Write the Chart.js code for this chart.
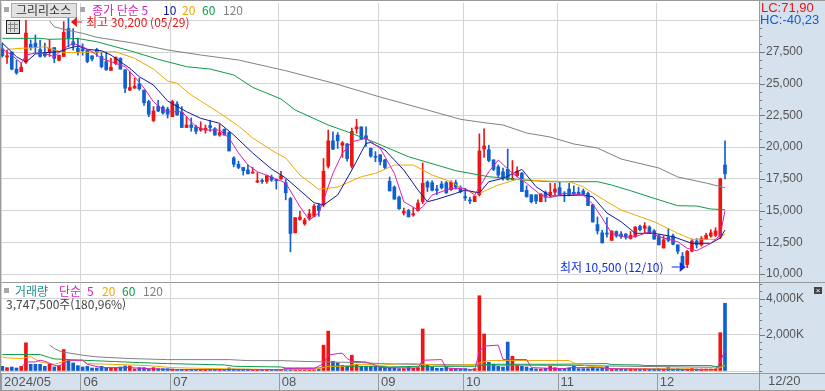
<!DOCTYPE html>
<html lang="ko">
<head>
  <meta charset="UTF-8">
  <title>그리리소스</title>
  <script src="https://cdn.jsdelivr.net/npm/chart.js"></script>
  <style>
    body { margin: 0; background: #fff; }
    canvas { position: absolute; left: 0; }
    #priceChart { top: 0; }
    #volumeChart { top: 283px; }
  </style>
</head>
<body>
  <canvas id="priceChart" width="825" height="283"></canvas>
  <canvas id="volumeChart" width="825" height="108"></canvas>
<script>
const monthLabels = ['2024/05', '06', '07', '08', '09', '10', '11', '12'];
const monthStart = [0, 17, 36, 59, 80, 98, 118, 139];
const priceLabels = [10000, 12500, 15000, 17500, 20000, 22500, 25000, 27500];
const volumeLabels = [2000, 4000];

const open = [
  27750,27100,27500,26150,25950,26700,28100,28200,27700,27450,
  27500,27850,26850,27150,29350,28300,27800,27750,27650,27200,
  27700,27150,26750,26050,26600,27000,26100,24500,24650,25000,
  24500,23600,22100,23250,23150,23000,22400,23400,22750,21550,
  21750,21600,21350,21350,21700,21450,20950,21400,21150,19150,
  18650,18400,18200,17950,17250,17350,17300,17650,17450,17500,
  17200,15950,13250,14300,13950,14400,14550,15400,15450,18500,
  20500,20950,20150,20250,18500,21450,21600,20900,19900,19250,
  19400,19000,17300,16850,16050,14800,15000,14650,15000,15700,
  17250,17200,16700,17100,17200,16650,17200,16800,16100,15850,
  15700,16250,19850,19800,19000,18450,18050,18250,17450,17750,
  17950,16600,16250,16250,15700,16450,16250,16450,16800,16350,
  16700,16450,16450,16550,16350,15450,13900,13250,13200,12650,
  13350,13150,13150,12800,12950,13750,13600,13700,13400,13000,
  12050,12900,13000,12300,11400,10750,11800,12600,12300,12750,
  13000,13050,12900,18600];
const close = [
  27200,27200,26150,25850,26300,29000,27850,27850,27150,27200,
  27800,27000,27250,29050,28600,28050,27500,27600,26750,26950,
  27500,26350,26100,26300,27100,26150,24650,24700,24800,24600,
  23500,22600,22850,22850,22700,22600,23600,22550,21550,21750,
  21550,21250,21500,21500,21550,20950,21150,20950,19700,18650,
  18400,18150,17900,18000,17350,17300,17750,17400,17350,17750,
  16400,13200,14450,14500,14250,14750,15350,15000,18100,20500,
  19850,20500,20350,19100,21250,21600,20650,20650,19300,19200,
  18850,18400,16550,15900,15150,14950,14500,14750,15600,17150,
  16850,16600,16600,16800,16400,17250,16850,16500,16000,15750,
  16150,19700,20100,18950,18250,17800,17600,17450,17550,18100,
  16500,16100,15700,15750,16300,16050,16450,16700,16250,16300,
  16250,16300,16300,16300,15400,14100,13400,12450,13150,13400,
  13000,12950,12900,13050,13700,13500,13800,13250,12750,12300,
  12700,12650,12350,11800,10700,11800,12600,12300,12800,13050,
  13250,13400,17500,17900];
const high = [
  28200,27650,27500,26850,26600,30000,28450,28850,28450,28200,
  28500,27850,27250,29900,30200,29350,28600,28150,27700,27200,
  27800,27500,27500,27000,27100,27050,26100,25950,25450,25450,
  24500,23700,23200,23700,23250,23150,23700,23600,23200,22400,
  22300,21750,22000,21750,22100,21550,21800,21450,21200,19250,
  18900,18400,18600,18400,18000,17500,17800,17800,17450,18100,
  17450,16050,14450,14950,14400,15100,15500,15550,19100,21350,
  21200,21150,20450,20300,21500,22200,21600,21600,19950,19650,
  19400,19050,17650,16950,16150,15200,15100,15250,15850,18750,
  17350,17350,17000,17300,17300,17350,17400,16950,16750,16050,
  16150,21050,21450,20150,19000,18600,18350,19850,18950,18450,
  18000,16950,16250,16250,16350,16550,17150,17150,17300,16500,
  17150,16950,16850,16700,16450,15500,14500,13450,14450,13400,
  13400,13350,13200,13350,13750,13850,14050,13800,13500,13100,
  13000,13600,13150,12300,11700,11850,12750,12800,12950,13200,
  13500,13650,17550,20500];
const low = [
  27100,26600,26100,25750,25950,26600,27650,27400,27100,27100,
  27150,26650,26800,27150,27900,27650,27250,27250,26650,26800,
  27150,26250,26050,26050,26500,26150,24300,24450,24650,24500,
  23300,22400,22000,22800,22600,22300,22400,22500,21550,21550,
  21250,21050,21250,21100,21250,20950,20850,20950,19700,18450,
  18300,17800,17900,17950,17200,17150,17150,17300,16700,17450,
  15850,11750,13250,14250,13850,14250,14500,14550,15300,18350,
  19800,19900,19200,18900,18350,21100,20600,20050,19200,18850,
  18600,18300,16550,15900,15100,14650,14500,14550,14950,15550,
  16500,16550,16250,16700,16350,16600,16700,16400,15800,15550,
  15700,16150,19200,18850,18150,17650,17400,17400,17400,17650,
  16500,16050,15600,15550,15700,15700,16100,16250,16250,15700,
  16150,16250,16250,16250,15400,14100,13150,12450,12900,12650,
  12900,12800,12750,12750,12900,13400,13250,13200,12750,12300,
  12050,12550,12300,11600,10550,10500,11750,12050,12200,12700,
  12900,12950,12800,17500];
// thousands of shares
const volume = [
  260,186,223,167,260,1560,372,372,372,260,
  372,223,298,1190,632,446,298,223,260,167,
  167,260,186,167,167,223,279,279,112,186,
  186,112,186,130,130,130,112,75,75,75,
  93,90,90,75,75,90,90,75,170,110,
  100,100,100,75,90,75,90,75,75,90,
  130,130,90,90,90,90,90,90,1430,2210,
  540,446,316,280,874,372,260,260,260,260,
  223,186,186,186,130,130,186,149,186,2325,
  353,223,149,149,223,130,130,130,130,75,
  130,4166,2046,484,372,260,223,1600,818,316,
  260,223,149,112,112,149,260,186,130,130,
  149,260,130,130,130,223,130,149,260,130,
  112,130,112,130,112,112,130,112,112,130,
  112,186,112,130,112,112,149,112,112,112,
  112,112,2120,3747.5];

// moving averages as [candle number, value]
const priceMa5 = [[0,27737],[2,27264],[4,26610],[5,27264],[7,27422],[9,27383],[11,27130],[13,27792],[15,28187],[17,27919],[19,27525],[21,27004],[24,26610],[26,26342],[28,25554],[30,24663],[32,23583],[34,22929],[35,22795],[38,22795],[40,22006],[41,21612],[43,21352],[46,21352],[48,20721],[50,19539],[52,18593],[54,18065],[58,17489],[60,17174],[63,15306],[65,14258],[67,14808],[68,15834],[70,17938],[72,19515],[74,20429],[77,20697],[80,19909],[83,17938],[85,15700],[88,15045],[89,15306],[91,16228],[95,16756],[98,16756],[100,16228],[103,18065],[105,18987],[108,17938],[111,17150],[114,16228],[116,16015],[119,16362],[123,16228],[125,15518],[127,14415],[129,13209],[132,12894],[134,12941],[137,13335],[139,12941],[143,12547],[145,12026],[147,11837],[150,12420],[152,13075],[153,14990]];
const priceMa10 = [[0,28210],[3,27130],[5,26713],[7,27343],[9,27446],[12,27525],[14,27792],[16,27974],[18,27714],[21,27603],[23,27264],[25,26736],[27,26216],[29,25554],[32,24900],[35,23638],[39,22795],[42,22274],[46,21880],[49,20958],[53,19539],[57,18278],[60,17568],[66,15621],[68,15440],[71,16228],[74,18199],[77,20304],[78,20367],[81,19775],[85,18199],[88,16622],[90,15700],[92,15888],[96,16362],[98,16622],[101,16386],[103,17277],[106,17544],[110,18254],[113,16883],[116,16149],[123,16228],[125,16094],[128,14810],[131,14124],[134,13209],[138,13209],[142,12941],[146,12420],[150,12420],[152,12839],[153,13469]];
const priceMa20 = [[1,27714],[4,27792],[7,27840],[9,27919],[13,27446],[24,27525],[28,27004],[32,26160],[35,25215],[37,25033],[40,24111],[46,22692],[50,21668],[53,20721],[58,19539],[60,19145],[63,17805],[67,16677],[71,16858],[76,17670],[79,17938],[83,18593],[87,18593],[91,17805],[95,17277],[98,16567],[101,16362],[105,17016],[109,17466],[115,17332],[120,17277],[123,16883],[125,16386],[128,15700],[131,15045],[138,14123],[143,13209],[146,12736],[151,12736],[153,13130]];
const priceMa60 = [[0,28581],[8,28581],[10,28502],[16,28565],[20,28313],[27,27603],[33,26925],[39,26342],[44,26160],[49,25688],[53,24718],[59,23796],[62,22930],[69,21746],[73,21218],[78,20508],[86,19248],[96,18144],[103,17670],[107,17544],[110,17410],[116,17277],[126,17277],[129,17016],[133,16567],[138,15968],[143,15385],[147,15360],[150,15125],[153,15070]];
const priceMa120 = [[10,29945],[11,29495],[13,29290],[17,28975],[20,28660],[28,28190],[35,27660],[42,27265],[50,26870],[60,26027],[70,25057],[80,23950],[90,22930],[97,22196],[102,21930],[106,21750],[111,21115],[116,20800],[121,20250],[126,19933],[131,19066],[139,18357],[143,17650],[149,17174],[153,16803]];

const volumeMa5 = [[4,186],[5,500],[7,500],[8,595],[9,540],[11,316],[12,260],[13,410],[14,595],[17,595],[18,372],[21,186],[27,186],[31,130],[36,75],[59,75],[60,130],[66,130],[68,410],[69,874],[71,967],[72,986],[73,688],[74,540],[77,500],[79,316],[80,186],[88,167],[89,595],[93,632],[94,167],[100,75],[101,1060],[102,1376],[105,1432],[106,632],[111,632],[112,186],[118,130],[119,130],[120,186],[127,186],[128,130],[146,75],[151,75],[152,500],[153,1153]];
const volumeMa20 = [[0,781],[1,725],[4,688],[6,800],[8,500],[11,372],[14,595],[17,595],[18,410],[23,372],[31,298],[36,186],[45,130],[59,75],[66,75],[69,260],[72,260],[75,372],[77,372],[80,316],[84,410],[87,410],[89,372],[93,316],[96,316],[100,372],[101,446],[103,577],[117,577],[120,577],[121,446],[124,260],[127,260],[128,130],[146,112],[150,50],[152,186],[153,316]];
const volumeMa60 = [[0,911],[8,911],[10,744],[11,670],[17,595],[24,520],[29,465],[35,410],[47,335],[49,260],[59,223],[60,167],[67,167],[69,260],[80,260],[82,223],[88,260],[100,260],[103,372],[117,372],[128,410],[129,353],[135,335],[136,298],[150,298],[152,186],[153,372]];
const volumeMa120 = [[10,1432],[11,1250],[12,1115],[13,1040],[17,875],[20,780],[27,690],[35,630],[48,630],[52,575],[59,575],[65,520],[76,465],[80,410],[86,372],[100,335],[125,300],[130,270],[150,205],[152,260],[153,290]];

const RED = '#ee1414', BLUE = '#1060d0';
const C5 = '#d81fb8', C10 = '#10189c', C20 = '#f0a800', C60 = '#0e9a48', C120 = '#808080';
const GRID = '#d4d4d4', FRAME = '#999999', PANEL = '#d6e1ee', TEXT = '#555555';
const KO = '"Noto Sans CJK KR", sans-serif';
const NUM = '"Liberation Sans", sans-serif';
const X_MIN = -0.28, X_MAX = 160.2, AXIS_W = 66;

const candleColor = open.map((o, i) => close[i] >= o ? RED : BLUE);

function label(ctx, str, x, y, color, font, align) {
  ctx.fillStyle = color;
  ctx.font = font;
  ctx.textAlign = align || 'left';
  ctx.textBaseline = 'middle';
  ctx.fillText(str, x, y);
}

function xAxis(showLabels, height) {
  return {
    type: 'linear', min: X_MIN, max: X_MAX, bounds: 'data', offset: false,
    border: { display: false },
    grid: { color: GRID, drawTicks: false, offset: false },
    afterFit: s => { s.height = height; s.paddingLeft = 0; s.paddingRight = 0; },
    afterBuildTicks: s => {
      s.ticks = monthStart.map(i => ({ value: Math.max(X_MIN, i - 0.45) }));
    },
    ticks: {
      display: showLabels, autoSkip: false, maxRotation: 0, minRotation: 0,
      align: 'start', labelOffset: 3, padding: 4, color: TEXT,
      font: { family: NUM, size: 13 },
      callback: (v, i) => monthLabels[i]
    }
  };
}

function yAxis(min, max, step, labels, fmt, top) {
  return {
    position: 'right', min, max, bounds: 'data',
    border: { display: false },
    afterFit: s => { s.width = AXIS_W; s.paddingTop = 0; s.paddingBottom = 0; },
    afterBuildTicks: s => {
      const t = [];
      for (let v = labels[0] % step; v <= top; v += step) t.push({ value: v });
      s.ticks = t;
    },
    grid: {
      drawTicks: false,
      color: c => (labels.includes(c.tick.value) || c.tick.value === 30000 || c.tick.value === 0) ? GRID : 'transparent'
    },
    ticks: {
      autoSkip: false, padding: 7, color: TEXT,
      font: { family: NUM, size: 12 },
      callback: v => labels.includes(v) ? fmt(v) : ''
    }
  };
}

// right panel, frame and the small tick marks of the value axis
function frameBehind(chart) {
  const { ctx, chartArea: a, width, height } = chart;
  ctx.save();
  ctx.fillStyle = PANEL;
  ctx.fillRect(a.right, 0, width - a.right, height);
  ctx.restore();
}
function tickMarks(chart, labels) {
  const { ctx, chartArea: a, scales } = chart;
  ctx.save();
  ctx.fillStyle = '#777777';
  scales.y.ticks.forEach(t => {
    if (t.value > 29500) return;
    const y = Math.round(scales.y.getPixelForValue(t.value));
    ctx.fillRect(a.right, y, labels.includes(t.value) ? 6 : 3, 1);
  });
  ctx.fillStyle = FRAME;
  ctx.fillRect(a.right, 0, 1, chart.height);
  ctx.fillRect(0, 0, 1, chart.height);
  ctx.restore();
}

function icon(ctx, x, y, w, h) {
  ctx.fillStyle = '#a8a8a8';
  ctx.fillRect(x, y, w, h);
}

const pricePanel = {
  id: 'pricePanel',
  beforeDraw: chart => frameBehind(chart),
  afterDraw: chart => {
    const { ctx, scales: { x, y } } = chart;
    tickMarks(chart, priceLabels);
    ctx.save();
    ctx.fillStyle = FRAME;
    ctx.fillRect(0, 0, 825, 1);
    ctx.fillRect(0, 282, 825, 1);

    // header
    icon(ctx, 4, 7, 5, 5);
    ctx.fillStyle = '#e2e2e2';
    ctx.fillRect(11, 3, 66, 15);
    ctx.strokeStyle = '#aaaaaa';
    ctx.strokeRect(11.5, 3.5, 65, 14);
    label(ctx, '그리리소스', 16, 10, '#333333', '12px ' + KO);
    icon(ctx, 80, 7, 5, 5);
    label(ctx, '종가 단순 5', 92, 10, C5, '12px ' + KO);
    label(ctx, '10', 163, 10, C10, '12px ' + KO);
    label(ctx, '20', 182, 10, C20, '12px ' + KO);
    label(ctx, '60', 202, 10, C60, '12px ' + KO);
    label(ctx, '120', 223, 10, C120, '12px ' + KO);
    label(ctx, 'LC:71,90', 761, 8, RED, '13px ' + NUM);
    label(ctx, 'HC:-40,23', 760, 20, BLUE, '13px ' + NUM);

    // table button
    ctx.fillStyle = '#dddddd';
    ctx.fillRect(7, 21, 12, 12);
    ctx.strokeStyle = '#222222';
    ctx.strokeRect(6.5, 20.5, 13, 13);
    ctx.strokeStyle = '#888888';
    ctx.beginPath();
    [10.5, 14.5].forEach(v => { ctx.moveTo(v, 22); ctx.lineTo(v, 32); });
    [24.5, 28.5].forEach(v => { ctx.moveTo(8, v); ctx.lineTo(18, v); });
    ctx.stroke();

    // highest price marker
    const hx = x.getPixelForValue(14) + 2.5, hy = Math.round(y.getPixelForValue(29900));
    ctx.fillStyle = RED;
    ctx.beginPath();
    ctx.moveTo(hx, hy); ctx.lineTo(hx + 6, hy - 5); ctx.lineTo(hx + 6, hy + 5);
    ctx.fill();
    ctx.fillRect(hx + 6, hy - 0.5, 5, 1);
    label(ctx, '최고 30,200 (05/29)', 86, hy, RED, '12px ' + KO);

    // lowest price marker
    const lx = x.getPixelForValue(145) - 1.5, ly = Math.round(y.getPixelForValue(10550));
    ctx.fillStyle = '#1030e0';
    ctx.beginPath();
    ctx.moveTo(lx, ly); ctx.lineTo(lx - 6, ly - 5); ctx.lineTo(lx - 6, ly + 5);
    ctx.fill();
    ctx.fillRect(lx - 14, ly - 0.5, 8, 1);
    label(ctx, '최저 10,500 (12/10)', 560, ly, '#1030e0', '12px ' + KO);
    ctx.restore();
  }
};

const volumePanel = {
  id: 'volumePanel',
  beforeDraw: chart => {
    const { ctx, width } = chart;
    frameBehind(chart);
    ctx.save();
    ctx.fillStyle = PANEL;
    ctx.fillRect(0, 90, width, 17);
    ctx.restore();
  },
  afterDraw: chart => {
    const { ctx, width, scales: { x } } = chart;
    tickMarks(chart, volumeLabels);
    ctx.save();
    ctx.fillStyle = FRAME;
    ctx.fillRect(0, 90, width, 1);
    ctx.fillRect(0, 107, width, 1);
    x.ticks.forEach(t => ctx.fillRect(Math.round(x.getPixelForValue(t.value)), 90, 1, 17));
    icon(ctx, 4, 5, 5, 5);
    label(ctx, '거래량', 15, 8, '#1f9090', '12px ' + KO);
    label(ctx, '단순', 59, 8, C5, '12px ' + KO);
    label(ctx, '5', 87, 8, C5, '12px ' + KO);
    label(ctx, '20', 102, 8, C20, '12px ' + KO);
    label(ctx, '60', 122, 8, C60, '12px ' + KO);
    label(ctx, '120', 143, 8, C120, '12px ' + KO);
    label(ctx, '3,747,500주(180,96%)', 6, 21, '#444444', '12px ' + KO);
    label(ctx, '12/20', 768, 98.5, TEXT, '13px ' + NUM);
    // close button of the volume pane
    ctx.fillStyle = '#444444';
    ctx.fillRect(814, 4, 8, 7);
    label(ctx, '×', 818, 7.5, '#ffffff', '8px ' + NUM, 'center');
    ctx.restore();
  }
};

function maLine(data, color, order) {
  return { type: 'line', data, borderColor: color, borderWidth: 1, pointRadius: 0, tension: 0, order };
}

new Chart(document.getElementById('priceChart'), {
  type: 'bar',
  data: {
    datasets: [
      { data: high.map((h, i) => ({ x: i, y: [low[i], h] })), backgroundColor: candleColor,
        barThickness: 1, grouped: false, order: 7 },
      { data: open.map((o, i) => ({ x: i, y: [o, close[i]] })), backgroundColor: candleColor,
        barThickness: 3, grouped: false, minBarLength: 1, order: 6 },
      maLine(priceMa120, C120, 5),
      maLine(priceMa60, C60, 4),
      maLine(priceMa20, C20, 3),
      maLine(priceMa10, C10, 2),
      maLine(priceMa5, C5, 1)
    ]
  },
  options: {
    responsive: false, animation: false, devicePixelRatio: 1,
    layout: { padding: { left: 1, top: 3, right: 0, bottom: 2 } },
    plugins: { legend: { display: false }, tooltip: { enabled: false } },
    scales: {
      x: xAxis(false, 0),
      y: yAxis(9450, 31365, 625, priceLabels, v => v.toLocaleString('en-US'), 30000)
    }
  },
  plugins: [pricePanel]
});

new Chart(document.getElementById('volumeChart'), {
  type: 'bar',
  data: {
    datasets: [
      { data: volume.map((v, i) => ({ x: i, y: v })), backgroundColor: candleColor,
        barThickness: 3, grouped: false, order: 5 },
      maLine(volumeMa120, C120, 4),
      maLine(volumeMa60, C60, 3),
      maLine(volumeMa20, C20, 2),
      maLine(volumeMa5, C5, 1)
    ]
  },
  options: {
    responsive: false, animation: false, devicePixelRatio: 1,
    layout: { padding: { left: 1, top: 0, right: 0, bottom: 0 } },
    plugins: { legend: { display: false }, tooltip: { enabled: false } },
    scales: {
      x: xAxis(true, 20),
      y: yAxis(0, 4870, 400, volumeLabels, v => v.toLocaleString('en-US') + 'K', 4800)
    }
  },
  plugins: [volumePanel]
});
</script>
</body>
</html>
